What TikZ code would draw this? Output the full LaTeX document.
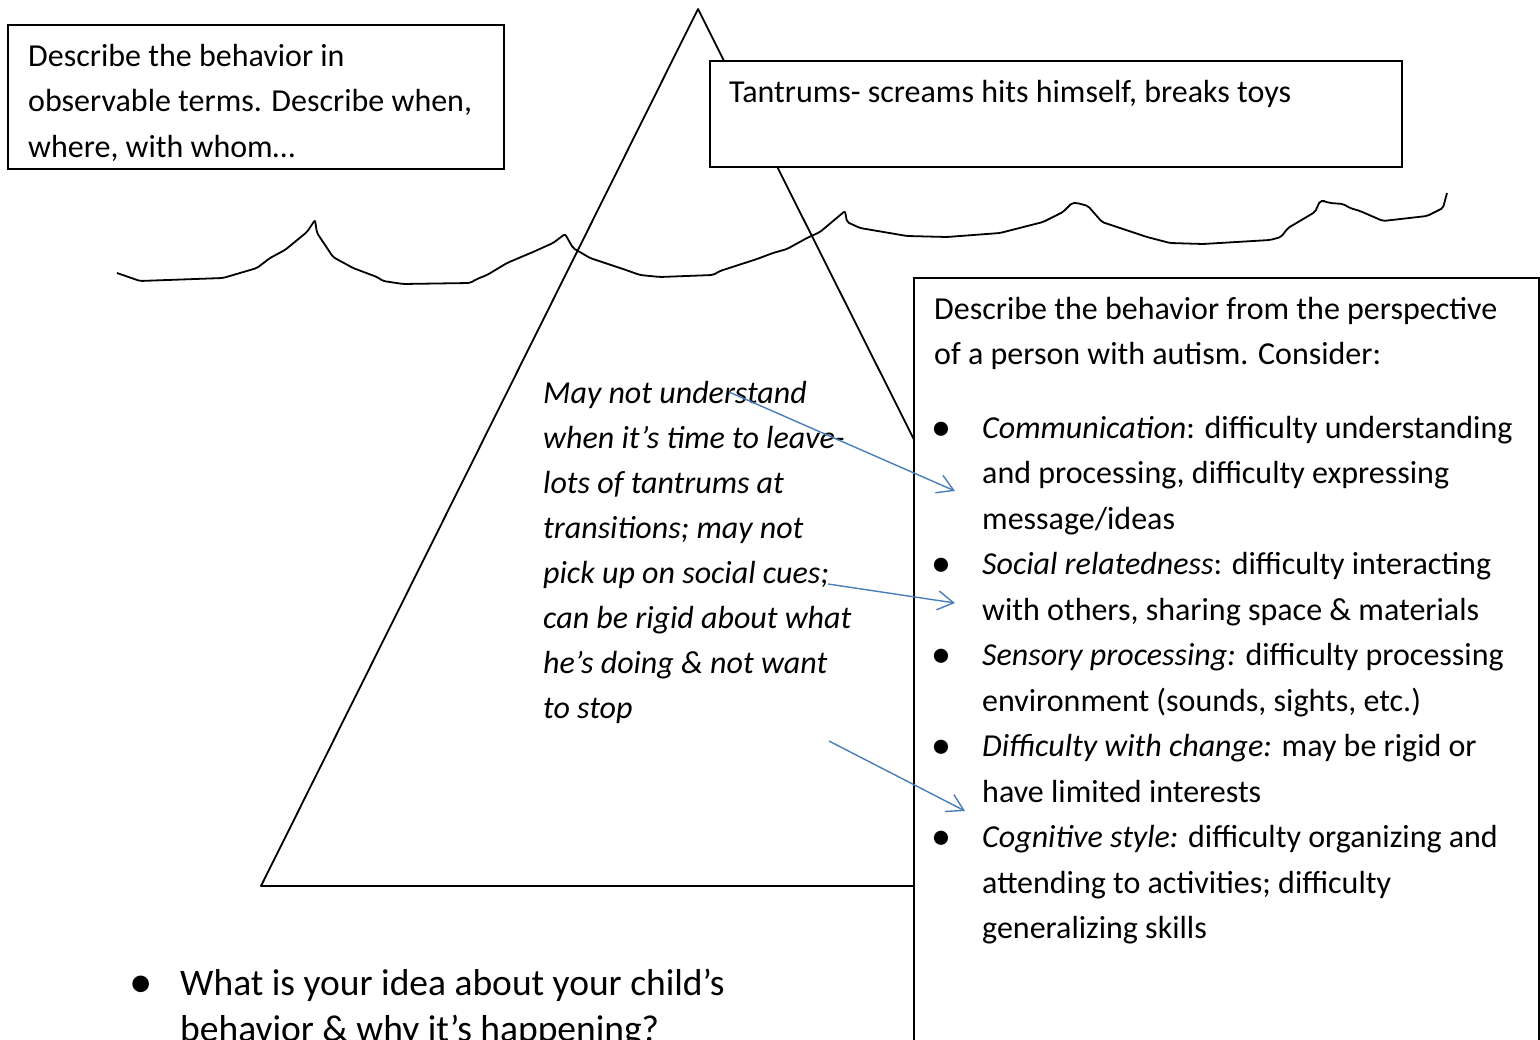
\documentclass[tikz,border=0pt]{standalone}
\usepackage{fontspec}
\setmainfont{Carlito}
\usepackage{tikz}
\usetikzlibrary{arrows.meta}
\definecolor{linkblue}{RGB}{74,126,187}
\newcommand\bigbul{\raisebox{-0.06em}{\scalebox{1.25}{\textbullet}}}
\newcommand\bul{\hspace*{-3pt}\makebox[51pt][l]{\bigbul}}
\newcommand\ind{\hspace*{48pt}}

\begin{document}
\begin{tikzpicture}[x=1pt,y=-1pt,
  every node/.style={font=\fontsize{32}{45.5}\selectfont},
  box/.style={draw,line width=1.6pt,fill=white,anchor=north west,inner sep=0},
  txt/.style={anchor=north west,inner sep=0,align=left},
  link/.style={draw=linkblue,line width=1.4pt,-{Straight Barb[length=16pt,width=19pt]}}]
  \useasboundingbox (0,0) rectangle (1540,1040);

  % iceberg and water line
  \draw[line width=1.8pt,line join=round] (698,9) -- (261,886) -- (1138,886) -- cycle;
  \draw[line width=1.8pt,rounded corners=2pt] (117,273) -- (140,281) -- (223,278) -- (257,268) -- (270,258)
    -- (285,250) -- (307,232) -- (315,220) -- (317,233) -- (333,257) -- (353,268) -- (377,277) -- (383,281)
    -- (403,284) -- (470,283) -- (477,279) -- (487,275) -- (507,263) -- (533,252) -- (553,243) -- (565,234)
    -- (573,248) -- (590,258) -- (623,269) -- (640,275) -- (660,277) -- (713,275) -- (720,271) -- (757,259)
    -- (773,253) -- (787,249) -- (807,238) -- (820,232) -- (845,211) -- (847,222) -- (860,228) -- (907,236)
    -- (947,237) -- (1000,233) -- (1043,222) -- (1063,212) -- (1072,203) -- (1077,203) -- (1088,206)
    -- (1102,222) -- (1147,237) -- (1170,243) -- (1203,244) -- (1270,240) -- (1281,237) -- (1288,228)
    -- (1315,212) -- (1320,201) -- (1323,201) -- (1330,203) -- (1343,204) -- (1350,208) -- (1360,211)
    -- (1383,221) -- (1427,216) -- (1443,208) -- (1447,193);

  % boxes
  \node[box,minimum width=496pt,minimum height=144pt] (obsbox) at (7,24) {};
  \node[box,minimum width=692pt,minimum height=106pt] (tanbox) at (709,60) {};
  \node[box,minimum width=625pt,minimum height=800pt] (perbox) at (913,277) {};

  \node[txt] (obs) at (28,44) {Describe the behavior in\\ observable terms. Describe when,\\ where, with whom…};
  \node[txt] (tan) at (729,80) {Tantrums- screams hits himself, breaks toys};
  \node[txt,font=\fontsize{32}{45}\selectfont\itshape] (idea) at (543,381) {May not understand\\ when it’s time to leave-\\
    lots of tantrums at\\ transitions; may not\\ pick up on social cues;\\ can be rigid about what\\
    he’s doing \& not want\\ to stop};
  \node[txt] (per) at (934,297) {Describe the behavior from the perspective\\ of a person with autism. Consider:\\[28pt]
    \bul\textit{Communication}: difficulty understanding\\ \ind and processing, difficulty expressing\\ \ind message/ideas\\
    \bul\textit{Social relatedness}: difficulty interacting\\ \ind with others, sharing space \& materials\\
    \bul\textit{Sensory processing:} difficulty processing\\ \ind environment (sounds, sights, etc.)\\
    \bul\textit{Difficulty with change:} may be rigid or\\ \ind have limited interests\\
    \bul\textit{Cognitive style:} difficulty organizing and\\ \ind attending to activities; difficulty\\ \ind generalizing skills};
  \node[txt,font=\fontsize{37.5}{46}\selectfont] (quest) at (134,969) {\hspace*{-5pt}\makebox[51pt][l]{\bigbul}What is your idea about your child’s\\
    \hspace*{46pt}behavior \& why it’s happening?};

  % arrows
  \coordinate (c1) at (729,392);
  \coordinate (d1) at (955,491);
  \coordinate (c2) at (828,584);
  \coordinate (d2) at (955,603);
  \coordinate (c3) at (829,741);
  \coordinate (d3) at (965,811);
  \path[link] (c1) -- (d1);
  \path[link] (c2) -- (d2);
  \path[link] (c3) -- (d3);
\end{tikzpicture}
\end{document}
